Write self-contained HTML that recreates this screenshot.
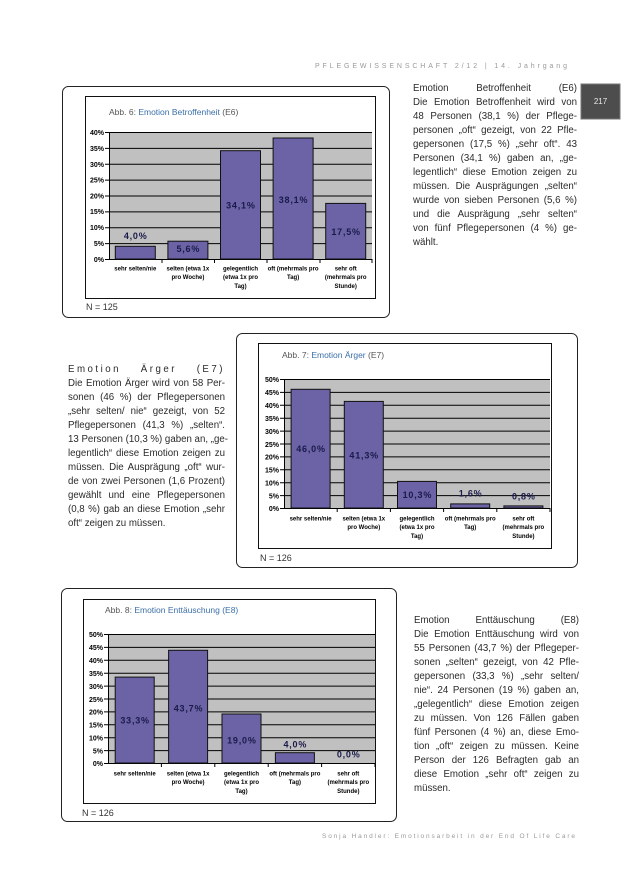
<!DOCTYPE html>
<html>
<head>
<meta charset="utf-8">
<style>
  html,body{margin:0;padding:0;background:#fff;}
  body{width:637px;height:884px;position:relative;overflow:hidden;font-family:"Liberation Sans",Arial,sans-serif;}
  svg{position:absolute;left:0;top:0;}
  .blk{position:absolute;color:#2a2a2a;font-size:9.7px;}
  .blk div{height:14px;line-height:14px;white-space:nowrap;text-align:justify;text-align-last:justify;}
  .blk div.last{text-align-last:left;}
</style>
</head>
<body>
<svg width="637" height="884" viewBox="0 0 637 884" xmlns="http://www.w3.org/2000/svg" font-family="Liberation Sans, Arial, sans-serif">
  <!-- header -->
  <text x="315" y="68" font-size="7" fill="#9a9a9a" textLength="252" lengthAdjust="spacing">PFLEGEWISSENSCHAFT 2/12 | 14. Jahrgang</text>
  <!-- page number box -->
  <rect x="581" y="84" width="39" height="35" fill="#4d4d4d" stroke="#777" stroke-width="1"/>
  <text x="600.5" y="104" font-size="8" fill="#e8e8e8" text-anchor="middle">217</text>
  <!-- footer -->
  <text x="322" y="838" font-size="6.5" fill="#9a9a9a" textLength="253" lengthAdjust="spacing">Sonja Handler: Emotionsarbeit in der End Of Life Care</text>

  <!-- ============ CHART 1 ============ -->
  <rect x="62.5" y="86.5" width="327" height="231" rx="6" fill="#fff" stroke="#222" stroke-width="1"/>
  <rect x="85.5" y="96.5" width="290" height="202" fill="#fff" stroke="#111" stroke-width="1"/>
  <text x="109" y="115" font-size="8.5" fill="#555">Abb. 6: <tspan fill="#3b6fa8">Emotion Betroffenheit</tspan> (E6)</text>
  <rect x="109" y="132" width="263" height="127" fill="#c0c0c0"/>
  <g stroke="#000" stroke-width="1">
    <line x1="105" y1="132.5" x2="372" y2="132.5"/>
    <line x1="105" y1="148.4" x2="372" y2="148.4"/>
    <line x1="105" y1="164.25" x2="372" y2="164.25"/>
    <line x1="105" y1="180.1" x2="372" y2="180.1"/>
    <line x1="105" y1="196" x2="372" y2="196"/>
    <line x1="105" y1="211.9" x2="372" y2="211.9"/>
    <line x1="105" y1="227.75" x2="372" y2="227.75"/>
    <line x1="105" y1="243.6" x2="372" y2="243.6"/>
    <line x1="105" y1="259.5" x2="372" y2="259.5"/>
    <line x1="109.5" y1="132" x2="109.5" y2="259.5"/>
    <line x1="162" y1="259" x2="162" y2="263"/>
    <line x1="214.5" y1="259" x2="214.5" y2="263"/>
    <line x1="267" y1="259" x2="267" y2="263"/>
    <line x1="320" y1="259" x2="320" y2="263"/>
    <line x1="372" y1="259" x2="372" y2="263"/>
  </g>
  <g font-size="7" font-weight="bold" fill="#000" text-anchor="end">
    <text x="104" y="135">40%</text>
    <text x="104" y="151">35%</text>
    <text x="104" y="167">30%</text>
    <text x="104" y="182.5">25%</text>
    <text x="104" y="198.5">20%</text>
    <text x="104" y="214">15%</text>
    <text x="104" y="230">10%</text>
    <text x="104" y="246">5%</text>
    <text x="104" y="262">0%</text>
  </g>
  <g fill="#6b63a6" stroke="#111" stroke-width="1">
    <rect x="115.3" y="246.3" width="40" height="12.7"/>
    <rect x="167.9" y="241.2" width="40" height="17.8"/>
    <rect x="220.5" y="150.7" width="40" height="108.3"/>
    <rect x="273.1" y="138" width="40" height="121"/>
    <rect x="325.7" y="203.4" width="40" height="55.6"/>
  </g>
  <g font-size="9" font-weight="bold" fill="#1a1a4a" text-anchor="middle" letter-spacing="0.8">
    <text x="135.7" y="239">4,0%</text>
    <text x="188.3" y="252">5,6%</text>
    <text x="240.9" y="208.5">34,1%</text>
    <text x="293.5" y="203">38,1%</text>
    <text x="346.1" y="235">17,5%</text>
  </g>
  <g font-size="6" font-weight="bold" fill="#000" text-anchor="middle">
    <text x="135.3" y="270.5">sehr selten/nie</text>
    <text x="187.9" y="270.5">selten (etwa 1x</text>
    <text x="187.9" y="279.2">pro Woche)</text>
    <text x="240.5" y="270.5">gelegentlich</text>
    <text x="240.5" y="279.2">(etwa 1x pro</text>
    <text x="240.5" y="287.9">Tag)</text>
    <text x="293.1" y="270.5">oft (mehrmals pro</text>
    <text x="293.1" y="279.2">Tag)</text>
    <text x="345.7" y="270.5">sehr oft</text>
    <text x="345.7" y="279.2">(mehrmals pro</text>
    <text x="345.7" y="287.9">Stunde)</text>
  </g>
  <text x="86" y="310" font-size="9" fill="#333">N = 125</text>

  <!-- ============ CHART 2 ============ -->
  <rect x="236.5" y="333.5" width="341" height="234" rx="6" fill="#fff" stroke="#222" stroke-width="1"/>
  <rect x="258.5" y="343.5" width="293" height="205" fill="#fff" stroke="#111" stroke-width="1"/>
  <text x="282" y="358" font-size="8.5" fill="#555">Abb. 7: <tspan fill="#3b6fa8">Emotion Ärger</tspan> (E7)</text>
  <rect x="284" y="379" width="266" height="129" fill="#c0c0c0"/>
  <g stroke="#000" stroke-width="1">
    <line x1="280" y1="379.5" x2="550" y2="379.5"/>
    <line x1="280" y1="392.4" x2="550" y2="392.4"/>
    <line x1="280" y1="405.3" x2="550" y2="405.3"/>
    <line x1="280" y1="418.2" x2="550" y2="418.2"/>
    <line x1="280" y1="431.1" x2="550" y2="431.1"/>
    <line x1="280" y1="444" x2="550" y2="444"/>
    <line x1="280" y1="456.9" x2="550" y2="456.9"/>
    <line x1="280" y1="469.8" x2="550" y2="469.8"/>
    <line x1="280" y1="482.7" x2="550" y2="482.7"/>
    <line x1="280" y1="495.6" x2="550" y2="495.6"/>
    <line x1="280" y1="508.5" x2="550" y2="508.5"/>
    <line x1="284.5" y1="379" x2="284.5" y2="508.5"/>
    <line x1="337.2" y1="508" x2="337.2" y2="512"/>
    <line x1="390.4" y1="508" x2="390.4" y2="512"/>
    <line x1="443.6" y1="508" x2="443.6" y2="512"/>
    <line x1="496.8" y1="508" x2="496.8" y2="512"/>
    <line x1="550" y1="508" x2="550" y2="512"/>
  </g>
  <g font-size="7" font-weight="bold" fill="#000" text-anchor="end">
    <text x="279" y="382">50%</text>
    <text x="279" y="395">45%</text>
    <text x="279" y="408">40%</text>
    <text x="279" y="421">35%</text>
    <text x="279" y="434">30%</text>
    <text x="279" y="447">25%</text>
    <text x="279" y="459.5">20%</text>
    <text x="279" y="472.5">15%</text>
    <text x="279" y="485.5">10%</text>
    <text x="279" y="498.5">5%</text>
    <text x="279" y="511">0%</text>
  </g>
  <g fill="#6b63a6" stroke="#111" stroke-width="1">
    <rect x="291.1" y="389.3" width="39" height="118.7"/>
    <rect x="344.3" y="401.4" width="39" height="106.6"/>
    <rect x="397.5" y="481.4" width="39" height="26.6"/>
    <rect x="450.7" y="503.9" width="39" height="4.1"/>
    <rect x="503.9" y="505.9" width="39" height="2.1"/>
  </g>
  <g font-size="9" font-weight="bold" fill="#1a1a4a" text-anchor="middle" letter-spacing="0.8">
    <text x="311" y="452">46,0%</text>
    <text x="364.2" y="458.5">41,3%</text>
    <text x="417.4" y="498">10,3%</text>
    <text x="470.6" y="496.5">1,6%</text>
    <text x="523.8" y="499.5">0,8%</text>
  </g>
  <g font-size="6" font-weight="bold" fill="#000" text-anchor="middle">
    <text x="310.6" y="520.5">sehr selten/nie</text>
    <text x="363.8" y="520.5">selten (etwa 1x</text>
    <text x="363.8" y="529.2">pro Woche)</text>
    <text x="417" y="520.5">gelegentlich</text>
    <text x="417" y="529.2">(etwa 1x pro</text>
    <text x="417" y="537.9">Tag)</text>
    <text x="470.2" y="520.5">oft (mehrmals pro</text>
    <text x="470.2" y="529.2">Tag)</text>
    <text x="523.4" y="520.5">sehr oft</text>
    <text x="523.4" y="529.2">(mehrmals pro</text>
    <text x="523.4" y="537.9">Stunde)</text>
  </g>
  <text x="260" y="561" font-size="9" fill="#333">N = 126</text>

  <!-- ============ CHART 3 ============ -->
  <rect x="61.5" y="588.5" width="335" height="233" rx="6" fill="#fff" stroke="#222" stroke-width="1"/>
  <rect x="83.5" y="599.5" width="292" height="204" fill="#fff" stroke="#111" stroke-width="1"/>
  <text x="105" y="613" font-size="8.5" fill="#555">Abb. 8: <tspan fill="#3b6fa8">Emotion Enttäuschung (E8)</tspan></text>
  <rect x="108" y="634" width="267" height="129" fill="#c0c0c0"/>
  <g stroke="#000" stroke-width="1">
    <line x1="104" y1="634.5" x2="375" y2="634.5"/>
    <line x1="104" y1="647.4" x2="375" y2="647.4"/>
    <line x1="104" y1="660.3" x2="375" y2="660.3"/>
    <line x1="104" y1="673.2" x2="375" y2="673.2"/>
    <line x1="104" y1="686.1" x2="375" y2="686.1"/>
    <line x1="104" y1="699" x2="375" y2="699"/>
    <line x1="104" y1="711.9" x2="375" y2="711.9"/>
    <line x1="104" y1="724.8" x2="375" y2="724.8"/>
    <line x1="104" y1="737.7" x2="375" y2="737.7"/>
    <line x1="104" y1="750.6" x2="375" y2="750.6"/>
    <line x1="104" y1="763.5" x2="375" y2="763.5"/>
    <line x1="108.5" y1="634" x2="108.5" y2="763.5"/>
    <line x1="161.4" y1="763" x2="161.4" y2="767"/>
    <line x1="214.8" y1="763" x2="214.8" y2="767"/>
    <line x1="268.2" y1="763" x2="268.2" y2="767"/>
    <line x1="321.6" y1="763" x2="321.6" y2="767"/>
    <line x1="375" y1="763" x2="375" y2="767"/>
  </g>
  <g font-size="7" font-weight="bold" fill="#000" text-anchor="end">
    <text x="103" y="637">50%</text>
    <text x="103" y="650">45%</text>
    <text x="103" y="663">40%</text>
    <text x="103" y="676">35%</text>
    <text x="103" y="689">30%</text>
    <text x="103" y="702">25%</text>
    <text x="103" y="714.5">20%</text>
    <text x="103" y="727.5">15%</text>
    <text x="103" y="740.5">10%</text>
    <text x="103" y="753.5">5%</text>
    <text x="103" y="766">0%</text>
  </g>
  <g fill="#6b63a6" stroke="#111" stroke-width="1">
    <rect x="115.2" y="677.1" width="39" height="85.9"/>
    <rect x="168.6" y="650.3" width="39" height="112.7"/>
    <rect x="222" y="714" width="39" height="49"/>
    <rect x="275.4" y="752.7" width="39" height="10.3"/>
  </g>
  <g font-size="9" font-weight="bold" fill="#1a1a4a" text-anchor="middle" letter-spacing="0.8">
    <text x="135.1" y="723.5">33,3%</text>
    <text x="188.5" y="711.5">43,7%</text>
    <text x="241.9" y="743.5">19,0%</text>
    <text x="295.3" y="747.5">4,0%</text>
    <text x="348.7" y="757.5">0,0%</text>
  </g>
  <g font-size="6" font-weight="bold" fill="#000" text-anchor="middle">
    <text x="134.7" y="775.5">sehr selten/nie</text>
    <text x="188.1" y="775.5">selten (etwa 1x</text>
    <text x="188.1" y="784.2">pro Woche)</text>
    <text x="241.5" y="775.5">gelegentlich</text>
    <text x="241.5" y="784.2">(etwa 1x pro</text>
    <text x="241.5" y="792.9">Tag)</text>
    <text x="294.9" y="775.5">oft (mehrmals pro</text>
    <text x="294.9" y="784.2">Tag)</text>
    <text x="348.3" y="775.5">sehr oft</text>
    <text x="348.3" y="784.2">(mehrmals pro</text>
    <text x="348.3" y="792.9">Stunde)</text>
  </g>
  <text x="82" y="816" font-size="9" fill="#333">N = 126</text>
</svg>

<!-- Text block 1 -->
<div class="blk" style="left:413px;top:82px;width:164px;">
  <div>Emotion Betroffenheit (E6)</div>
  <div>Die Emotion Betroffenheit wird von</div>
  <div>48 Personen (38,1 %) der Pflege-</div>
  <div>personen „oft“ gezeigt, von 22 Pfle-</div>
  <div>gepersonen (17,5 %) „sehr oft“. 43</div>
  <div>Personen (34,1 %) gaben an, „ge-</div>
  <div>legentlich“ diese Emotion zeigen zu</div>
  <div>müssen. Die Ausprägungen „selten“</div>
  <div>wurde von sieben Personen (5,6 %)</div>
  <div>und die Ausprägung „sehr selten“</div>
  <div>von fünf Pflegepersonen (4 %) ge-</div>
  <div class="last">wählt.</div>
</div>

<!-- Text block 2 -->
<div class="blk" style="left:68px;top:363px;width:157px;">
  <div style="letter-spacing:2.5px;">Emotion Ärger (E7)</div>
  <div>Die Emotion Ärger wird von 58 Per-</div>
  <div>sonen (46 %) der Pflegepersonen</div>
  <div>„sehr selten/ nie“ gezeigt, von 52</div>
  <div>Pflegepersonen (41,3 %) „selten“.</div>
  <div>13 Personen (10,3 %) gaben an, „ge-</div>
  <div>legentlich“ diese Emotion zeigen zu</div>
  <div>müssen. Die Ausprägung „oft“ wur-</div>
  <div>de von zwei Personen (1,6 Prozent)</div>
  <div>gewählt und eine Pflegepersonen</div>
  <div>(0,8 %) gab an diese Emotion „sehr</div>
  <div class="last">oft“ zeigen zu müssen.</div>
</div>

<!-- Text block 3 -->
<div class="blk" style="left:414px;top:614px;width:165px;">
  <div>Emotion Enttäuschung (E8)</div>
  <div>Die Emotion Enttäuschung wird von</div>
  <div>55 Personen (43,7 %) der Pflegeper-</div>
  <div>sonen „selten“ gezeigt, von 42 Pfle-</div>
  <div>gepersonen (33,3 %) „sehr selten/</div>
  <div>nie“. 24 Personen (19 %) gaben an,</div>
  <div>„gelegentlich“ diese Emotion zeigen</div>
  <div>zu müssen. Von 126 Fällen gaben</div>
  <div>fünf Personen (4 %) an, diese Emo-</div>
  <div>tion „oft“ zeigen zu müssen. Keine</div>
  <div>Person der 126 Befragten gab an</div>
  <div>diese Emotion „sehr oft“ zeigen zu</div>
  <div class="last">müssen.</div>
</div>
</body>
</html>
